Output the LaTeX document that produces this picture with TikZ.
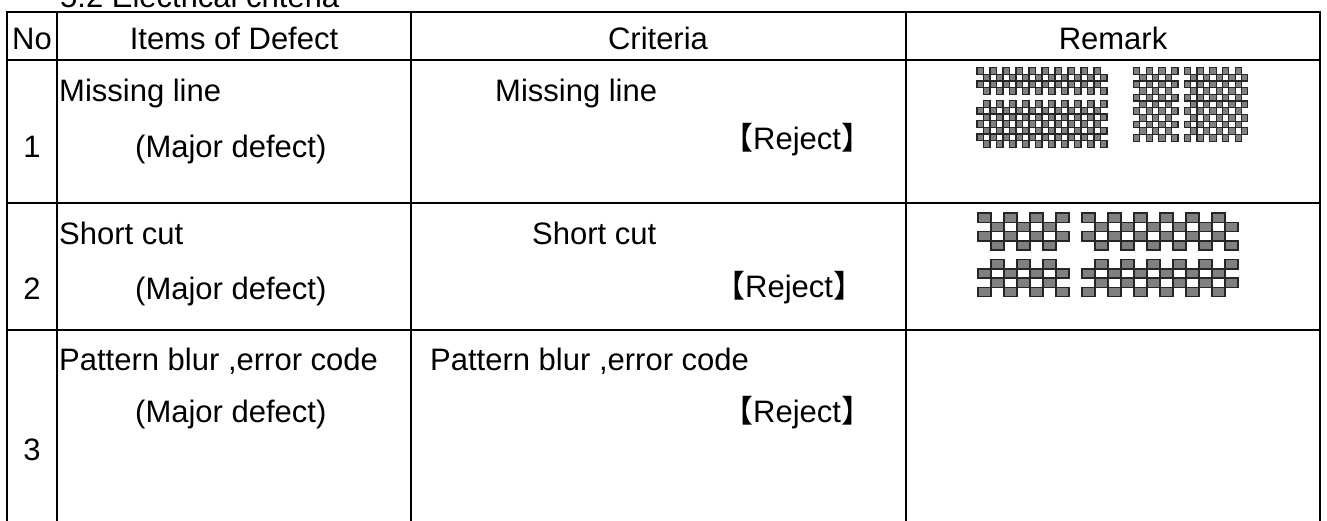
\documentclass[tikz,border=0pt]{standalone}
\usepackage{fontspec}
\setmainfont{Liberation Sans}
\newfontfamily\cjk{Noto Sans CJK SC}
\newcommand{\rej}{{\cjk 【}Reject{\cjk 】}}
% checkerboard block: style, x0, y0, cols, rows, cell width, cell height, parity
\newcommand{\chkblock}[8]{%
  \foreach \ci in {1,...,#4}{\foreach \rj in {1,...,#5}{%
    \pgfmathtruncatemacro{\cpar}{mod(\ci+\rj+#8,2)}%
    \ifnum\cpar=0 \draw[#1] ({#2+(\ci-1)*#6},{#3+(\rj-1)*#7}) rectangle ++(#6,#7);\fi
  }}}
\begin{document}
\begin{tikzpicture}[x=1pt,y=-1pt,
  grid/.style={line width=2pt,line cap=rect},
  txt/.style={inner sep=0pt,font=\fontsize{31}{37}\selectfont},
  cellA/.style={fill=black!50,draw=black!85,line width=1.1pt},
  cellB/.style={fill=black!50,draw=black!85,line width=1.5pt}]
\useasboundingbox (0,0) rectangle (1327,521);
\clip (0,0) rectangle (1327,521);

% title, mostly above the page edge
\node[txt,anchor=base west] (title) at (60,8) {5.2 Electrical criteria};

% table rules
\draw[grid] (7,12) -- (1320,12);
\draw[grid] (7,60) -- (1320,60);
\draw[grid] (7,203) -- (1320,203);
\draw[grid] (7,330) -- (1320,330);
\foreach \xx in {7,57,411,906,1320}
  \draw[grid] (\xx,12) -- (\xx,540);

% header
\node[txt,anchor=base] (hno)   at (32,50)   {No};
\node[txt,anchor=base] (hitem) at (234,50)  {Items of Defect};
\node[txt,anchor=base] (hcrit) at (658,50)  {Criteria};
\node[txt,anchor=base] (hrem)  at (1113,50) {Remark};

% row 1
\node[txt,anchor=base] (n1) at (32,158) {1};
\node[txt,anchor=base west] (i1a) at (59,102) {Missing line};
\node[txt,anchor=base west] (i1b) at (135,158) {(Major defect)};
\node[txt,anchor=base west] (c1a) at (495,102) {Missing line};
\node[txt,anchor=base west] (c1b) at (722,150) {\rej};

% row 2
\node[txt,anchor=base] (n2) at (32,299) {2};
\node[txt,anchor=base west] (i2a) at (59,245) {Short cut};
\node[txt,anchor=base west] (i2b) at (135,299) {(Major defect)};
\node[txt,anchor=base west] (c2a) at (532,245) {Short cut};
\node[txt,anchor=base west] (c2b) at (714,297) {\rej};

% row 3
\node[txt,anchor=base] (n3) at (32,460) {3};
\node[txt,anchor=base west] (i3a) at (59,370) {Pattern blur ,error code};
\node[txt,anchor=base west] (i3b) at (135,422) {(Major defect)};
\node[txt,anchor=base west] (c3a) at (430,370) {Pattern blur ,error code};
\node[txt,anchor=base west] (c3b) at (722,422) {\rej};

% missing line patterns
\chkblock{cellA}{977}{67.7}{20}{4}{6.5}{6.67}{0}
\chkblock{cellA}{977}{100.7}{20}{7}{6.5}{6.67}{1}
\chkblock{cellA}{1133.5}{67.7}{7}{11}{6.35}{6.67}{0}
\chkblock{cellA}{1184.3}{67.7}{10}{11}{6.35}{6.67}{0}

% short cut patterns
\chkblock{cellB}{978}{213}{7}{4}{13}{9.3}{0}
\chkblock{cellB}{1082}{213}{12}{4}{13}{9.3}{0}
\chkblock{cellB}{978}{259.5}{7}{4}{13}{9.3}{1}
\chkblock{cellB}{1082}{259.5}{12}{4}{13}{9.3}{1}
\end{tikzpicture}
\end{document}
